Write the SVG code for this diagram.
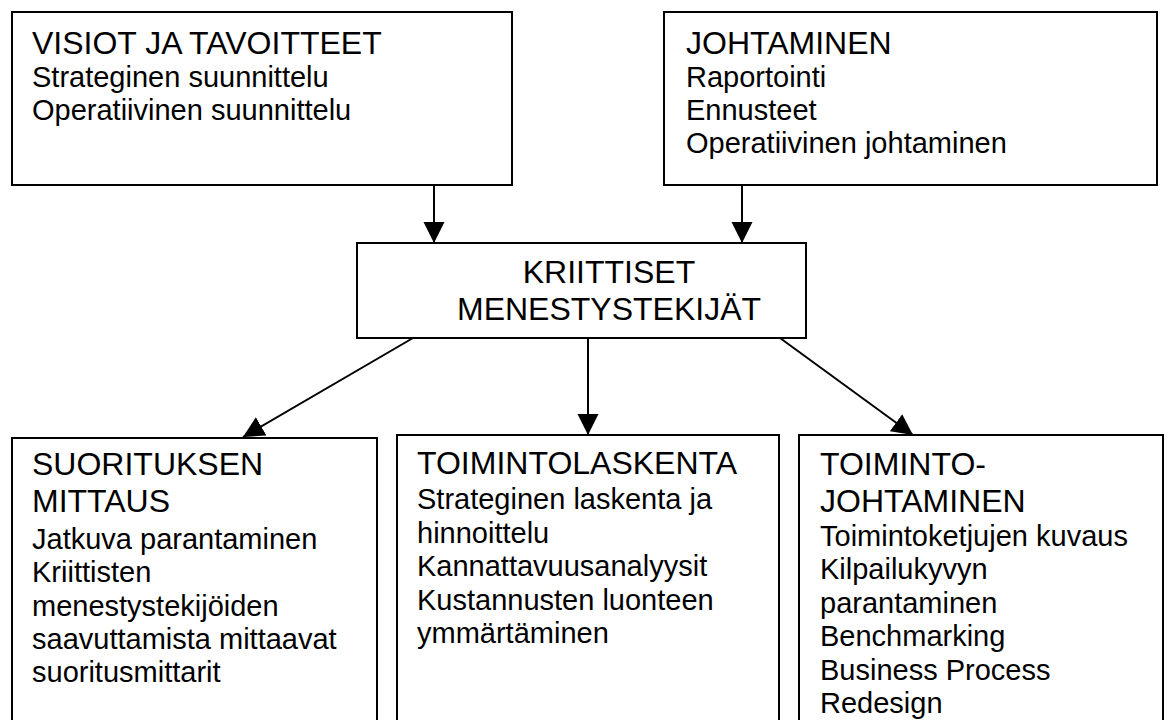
<svg xmlns="http://www.w3.org/2000/svg" width="1170" height="720" viewBox="0 0 1170 720">
  <style>
    .box { fill: #ffffff; stroke: #000000; stroke-width: 2; }
    .link { fill: none; stroke: #000000; stroke-width: 2; marker-end: url(#head); }
    text { font-family: "Liberation Sans", Arial, sans-serif; fill: #000000; }
    .h { font-size: 32px; }
    .b { font-size: 29px; }
    .c { text-anchor: middle; }
  </style>
  <defs>
    <marker id="head" markerUnits="userSpaceOnUse" markerWidth="22" markerHeight="22" refX="21" refY="10.5" orient="auto">
      <path d="M0,0 L21,10.5 L0,21 Z" fill="#000000"/>
    </marker>
  </defs>
  <rect width="1170" height="720" fill="#ffffff"/>

  <g id="connectors">
    <line class="link" x1="434" y1="185" x2="434" y2="243"/>
    <line class="link" x1="742" y1="185" x2="742" y2="243"/>
    <line class="link" x1="588" y1="338" x2="588" y2="435"/>
    <line class="link" x1="413" y1="338" x2="243" y2="437"/>
    <line class="link" x1="780" y1="338" x2="913" y2="435"/>
  </g>

  <g id="visiot">
    <rect class="box" x="12" y="12" width="500" height="173"/>
    <text class="h" x="32" y="54">VISIOT JA TAVOITTEET</text>
    <text class="b" x="32" y="87">Strateginen suunnittelu</text>
    <text class="b" x="32" y="120">Operatiivinen suunnittelu</text>
  </g>

  <g id="johtaminen">
    <rect class="box" x="664" y="12" width="493" height="173"/>
    <text class="h" x="686" y="54">JOHTAMINEN</text>
    <text class="b" x="686" y="87">Raportointi</text>
    <text class="b" x="686" y="120">Ennusteet</text>
    <text class="b" x="686" y="153">Operatiivinen johtaminen</text>
  </g>

  <g id="kriittiset">
    <rect class="box" x="357" y="243" width="449" height="95"/>
    <text class="h c" x="609" y="283">KRIITTISET</text>
    <text class="h c" x="609" y="320">MENESTYSTEKIJÄT</text>
  </g>

  <g id="suorituksen-mittaus">
    <rect class="box" x="12" y="438" width="365" height="300"/>
    <text class="h" x="32" y="475">SUORITUKSEN</text>
    <text class="h" x="32" y="512">MITTAUS</text>
    <text class="b" x="32" y="549">Jatkuva parantaminen</text>
    <text class="b" x="32" y="582">Kriittisten</text>
    <text class="b" x="32" y="616">menestystekijöiden</text>
    <text class="b" x="32" y="649">saavuttamista mittaavat</text>
    <text class="b" x="32" y="682">suoritusmittarit</text>
  </g>

  <g id="toimintolaskenta">
    <rect class="box" x="397" y="435" width="382" height="300"/>
    <text class="h" x="417" y="474">TOIMINTOLASKENTA</text>
    <text class="b" x="417" y="509">Strateginen laskenta ja</text>
    <text class="b" x="417" y="543">hinnoittelu</text>
    <text class="b" x="417" y="576">Kannattavuusanalyysit</text>
    <text class="b" x="417" y="610">Kustannusten luonteen</text>
    <text class="b" x="417" y="643">ymmärtäminen</text>
  </g>

  <g id="toimintojohtaminen">
    <rect class="box" x="799" y="435" width="364" height="300"/>
    <text class="h" x="820" y="475">TOIMINTO-</text>
    <text class="h" x="820" y="512">JOHTAMINEN</text>
    <text class="b" x="820" y="546">Toimintoketjujen kuvaus</text>
    <text class="b" x="820" y="579">Kilpailukyvyn</text>
    <text class="b" x="820" y="613">parantaminen</text>
    <text class="b" x="820" y="646">Benchmarking</text>
    <text class="b" x="820" y="680">Business Process</text>
    <text class="b" x="820" y="713">Redesign</text>
  </g>
</svg>
